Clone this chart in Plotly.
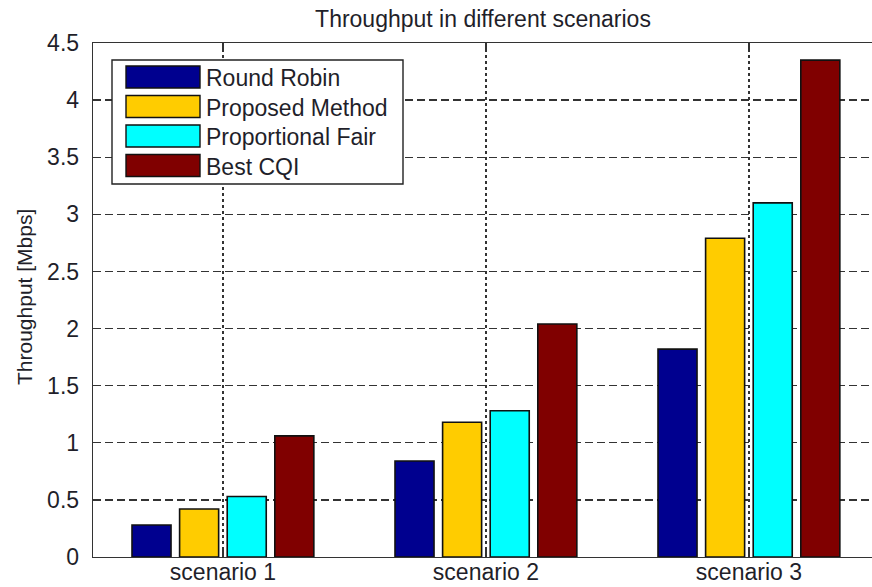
import plotly.graph_objects as go

categories = ["scenario 1", "scenario 2", "scenario 3"]
series_names = ["Round Robin", "Proposed Method", "Proportional Fair", "Best CQI"]
round_robin = [0.28, 0.84, 1.82]
proposed_method = [0.42, 1.18, 2.79]
proportional_fair = [0.53, 1.28, 3.10]
best_cqi = [1.06, 2.04, 4.35]
series_values = [round_robin, proposed_method, proportional_fair, best_cqi]
series_colors = ["#00008F", "#FFCC00", "#00FFFF", "#800000"]
y_ticks = [0, 0.5, 1, 1.5, 2, 2.5, 3, 3.5, 4, 4.5]

W, H = 872, 587
ML, MR, MT, MB = 93, 0, 43, 30
PW, PH = W - ML - MR, H - MT - MB

FONT = "Liberation Sans, Arial, sans-serif"
TXT = "#1f1f2a"
FS = 23

fig = go.Figure()
for name, vals, col in zip(series_names, series_values, series_colors):
    fig.add_trace(go.Bar(
        x=categories, y=vals, name=name, showlegend=False,
        marker=dict(color=col, line=dict(color="#111111", width=1.6)),
    ))

def px_x(p):
    return (p - ML) / PW

def px_y(p):
    return (H - MB - p) / PH

# custom legend (box, wide swatches, labels)
shapes = [dict(type="rect", xref="paper", yref="paper",
               x0=px_x(112), x1=px_x(403), y0=px_y(184), y1=px_y(60),
               fillcolor="white", line=dict(color="#222222", width=1.4), layer="above")]
annotations = []
row0, step = 77, 29.5
for i, (name, col) in enumerate(zip(series_names, series_colors)):
    cy = row0 + i * step
    shapes.append(dict(type="rect", xref="paper", yref="paper",
                       x0=px_x(126), x1=px_x(200), y0=px_y(cy + 11), y1=px_y(cy - 11),
                       fillcolor=col, line=dict(color="#111111", width=1.4), layer="above"))
    annotations.append(dict(xref="paper", yref="paper", x=px_x(204), y=px_y(cy + 1),
                            text=name, showarrow=False, xanchor="left", yanchor="middle",
                            font=dict(family=FONT, size=FS, color=TXT)))

# y-axis title placed as annotation
annotations.append(dict(xref="paper", yref="paper", x=px_x(24), y=px_y(297),
                        text="Throughput [Mbps]", showarrow=False, textangle=-90,
                        xanchor="center", yanchor="middle",
                        font=dict(family=FONT, size=21, color=TXT)))

fig.update_layout(
    width=W, height=H,
    margin=dict(l=ML, r=MR, t=MT, b=MB, pad=0, autoexpand=False),
    paper_bgcolor="white", plot_bgcolor="white",
    barmode="group", bargap=0.276, bargroupgap=0.18,
    font=dict(family=FONT, size=FS, color=TXT),
    title=dict(text="Throughput in different scenarios", x=483 / W, xanchor="center",
               y=1 - 19 / H, yanchor="middle", yref="container",
               font=dict(family=FONT, size=FS, color=TXT)),
    shapes=shapes, annotations=annotations,
    hovermode=False,
)
fig.update_xaxes(
    type="category", range=[-0.494, 2.468], automargin=False,
    showline=True, linecolor="#333333", linewidth=1.3, mirror="ticks",
    ticks="inside", ticklen=8, tickcolor="#333333", tickwidth=1.3,
    showgrid=True, gridcolor="#333333", gridwidth=1.3, griddash="3px,3px",
    ticklabelstandoff=-6,
    tickfont=dict(family=FONT, size=FS, color=TXT),
)
fig.update_yaxes(
    range=[0, 4.5], tickvals=y_ticks, ticktext=[f"{v:g}" for v in y_ticks],
    automargin=False,
    showline=True, linecolor="#333333", linewidth=1.3, mirror=False,
    ticks="inside", ticklen=8, tickcolor="#333333", tickwidth=1.3,
    showgrid=True, gridcolor="#333333", gridwidth=1.3, griddash="8px,4px",
    zeroline=False, ticklabelstandoff=8,
    tickfont=dict(family=FONT, size=FS, color=TXT),
)

fig.write_html("out.html",
               config={"displayModeBar": False, "staticPlot": True},
               post_script="document.body.style.margin='0';document.body.style.padding='0';"
                           "document.body.style.overflow='hidden';")
